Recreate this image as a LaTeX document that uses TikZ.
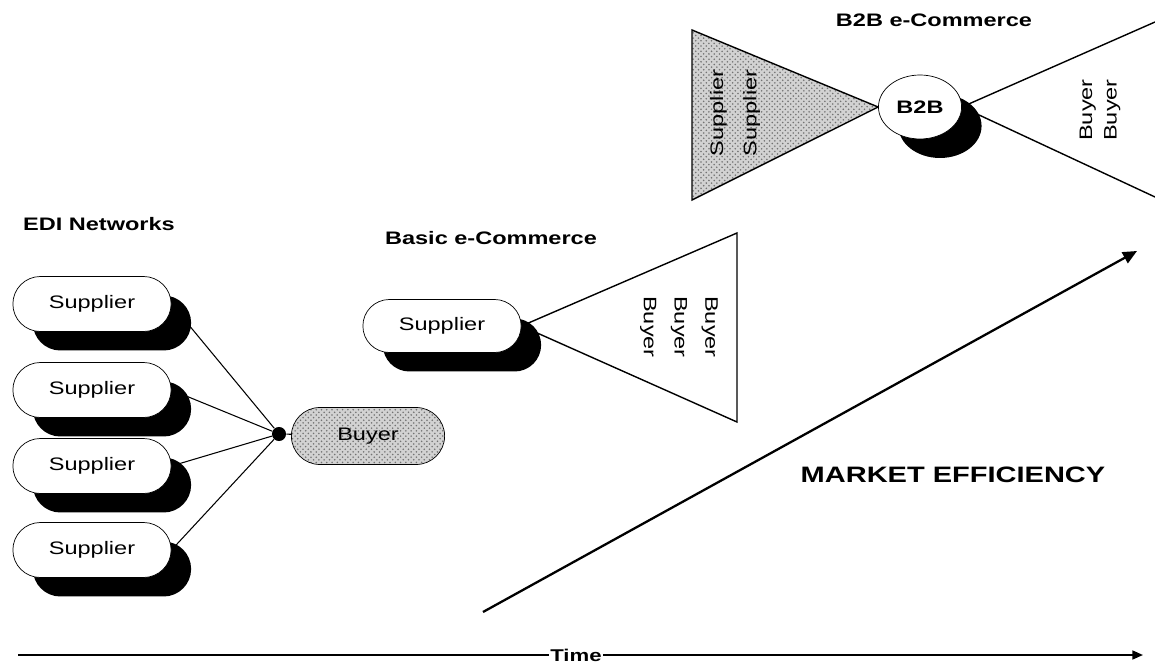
\documentclass[tikz,border=0pt]{standalone}
\usepackage{fontspec}
\setmainfont{Liberation Sans}[FakeStretch=1.3]
\usetikzlibrary{arrows.meta,positioning,shapes.misc,shapes.geometric,shadows,backgrounds,patterns}

\begin{document}
\begin{tikzpicture}[x=0.02cm, y=-0.02cm,
    heading/.style={font=\bfseries\fontsize{10.3}{12}\selectfont},
    pill/.style={rounded rectangle, draw=black, thin, fill=white, minimum width=3.4cm, minimum height=1.1cm, font=\fontsize{10.3}{12}\selectfont},
    blackshadow/.style={drop shadow={shadow xshift=0.4cm, shadow yshift=-0.38cm, fill=black, opacity=1}},
    stipple/.style={draw=black, preaction={fill=gray!35}, pattern=crosshatch dots, pattern color=black!55},
    edge line/.style={draw=black, line width=0.8pt},
    stack/.style={align=center, font=\fontsize{10.3}{#1}\selectfont}]
  \useasboundingbox (0,0) rectangle (1155,668);

  \node[heading] (edi) at (99,224) {EDI Networks};
  \node[pill, blackshadow] (sup1) at (92,304) {Supplier};
  \node[pill, blackshadow] (sup2) at (92,390) {Supplier};
  \node[pill, blackshadow] (sup3) at (92,466) {Supplier};
  \node[pill, blackshadow] (sup4) at (92,550) {Supplier};
  \node[circle, fill=black, inner sep=0pt, minimum size=8pt] (hub) at (279,434) {};
  \node[pill, stipple, minimum width=3.3cm, minimum height=1.14cm] (buyer) at (368,436) {Buyer};

  \node[pill, blackshadow, minimum height=1.06cm] (bsup) at (442,326) {Supplier};
  \node[heading] (bhead) at (491,238) {Basic e-Commerce};
  \coordinate (btop) at (737,233);
  \coordinate (bbot) at (737,422);
  \node[stack=17.5pt, rotate=-90] (bbuy) at (679,327) {Buyer\\Buyer\\Buyer};

  \coordinate (ltop) at (692,30);
  \coordinate (lbot) at (692,200);
  \node[ellipse, draw=black, thin, fill=white, blackshadow, minimum width=1.48cm, minimum height=1.28cm, font=\bfseries\fontsize{10.3}{12}\selectfont] (b2b) at (920,107) {B2B};
  \node[heading] (b2bhead) at (934,20) {B2B e-Commerce};
  \coordinate (rtop) at (1155,22);
  \coordinate (rbot) at (1155,197);
  \node[stack=14pt, rotate=90] (rbuy) at (1100,110) {Buyer\\Buyer};

  \begin{scope}[on background layer]
    \draw[line width=0.6pt] (sup1.east) -- (hub) (sup2.east) -- (hub)
      (sup3.east) -- (hub) (sup4.east) -- (hub) (hub) -- (buyer);
    \draw[edge line] (bsup.east) -- (btop) -- (bbot) -- cycle;
    \draw[stipple, line width=0.8pt] (ltop) -- (b2b.west) -- (lbot) -- cycle;
    \draw[edge line] (rtop) -- (b2b.east) -- (rbot);
  \end{scope}
  \node[stack=19pt, rotate=90] (lsup) at (735,113) {Supplier\\Supplier};

  \coordinate (mstart) at (483,612);
  \coordinate (mend) at (1137,251);
  \draw[line width=1.3pt, -{Triangle[length=8pt, width=7pt]}] (mstart) -- (mend);
  \node[font=\bfseries\fontsize{12.7}{15}\selectfont] (market) at (953,475) {MARKET EFFICIENCY};

  \coordinate (tstart) at (18,655);
  \coordinate (tend) at (1143,655);
  \draw[line width=1.1pt, -{Triangle[length=6pt, width=5pt]}] (tstart) -- (tend)
    node[pos=0.496, fill=white, inner sep=1pt, font=\bfseries\fontsize{9.7}{12}\selectfont] (time) {Time};
\end{tikzpicture}
\end{document}
